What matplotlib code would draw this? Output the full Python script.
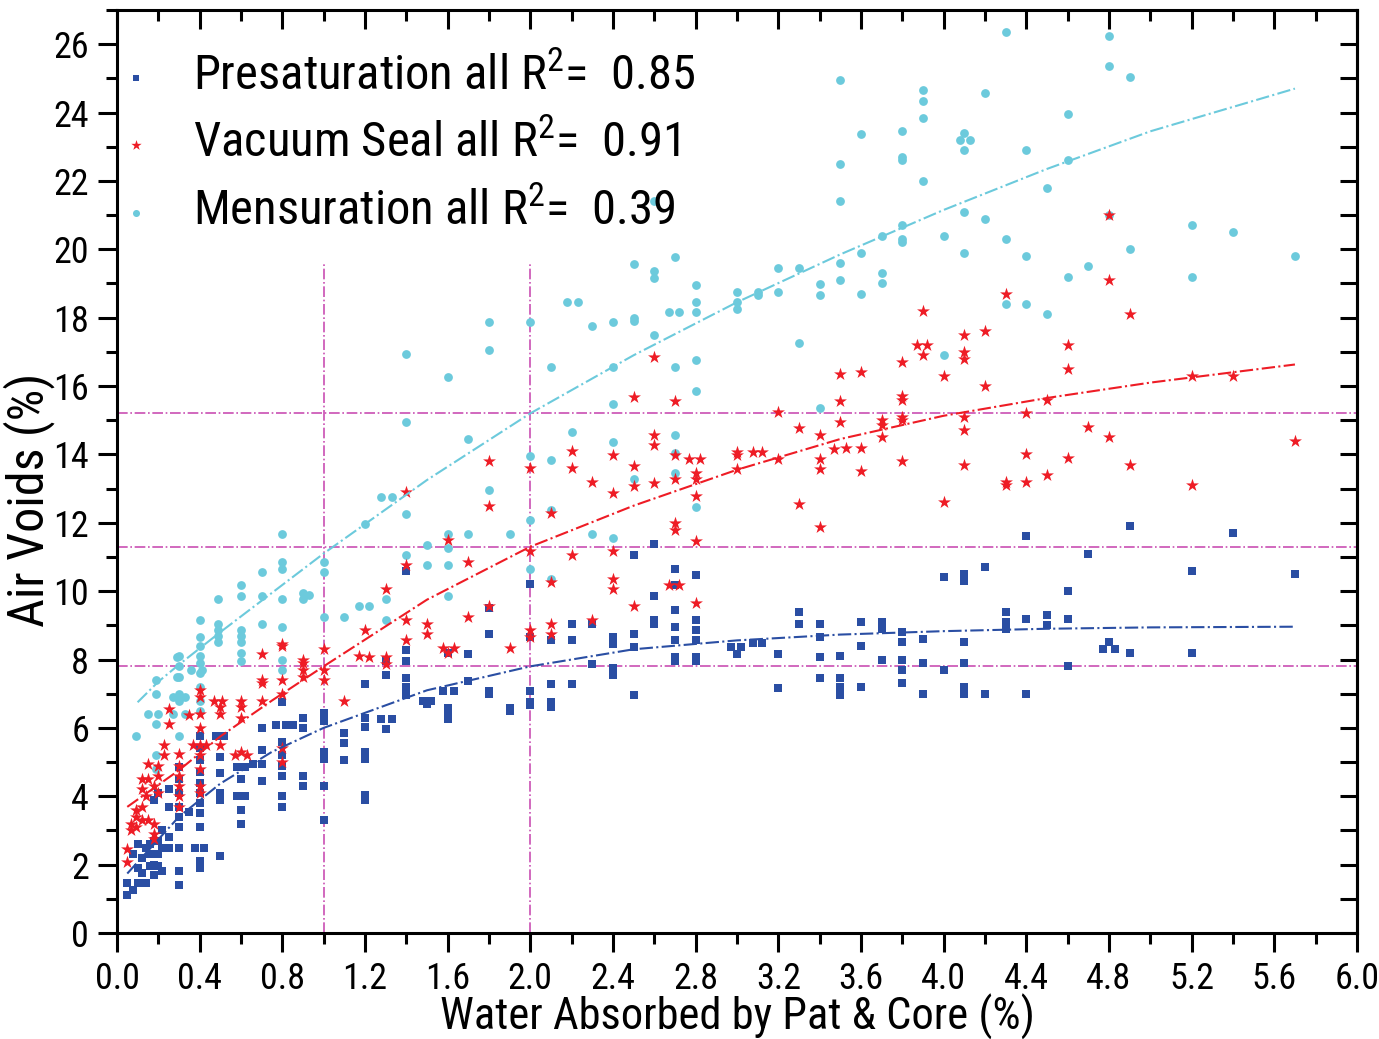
import matplotlib
matplotlib.use("Agg")
import matplotlib.pyplot as plt
from matplotlib.ticker import MultipleLocator
from matplotlib import font_manager as fm

# prefer an Arial-Narrow-like face, fall back to normal sans
wanted = ['Liberation Sans Narrow', 'Nimbus Sans Narrow', 'Arial Narrow',
          'Roboto Condensed', 'Archivo Narrow', 'PT Sans Narrow', 'Liberation Sans']
have = set(f.name for f in fm.fontManager.ttflist)
plt.rcParams['font.family'] = [n for n in wanted if n in have] + ['DejaVu Sans']

# --- Presaturation (blue squares) ---
pres_x = [0.05, 0.05, 0.08, 0.08, 0.1, 0.1, 0.1, 0.12, 0.12, 0.14, 0.14,
          0.16, 0.16, 0.16, 0.18, 0.18, 0.18, 0.18, 0.2, 0.2, 0.2, 0.2,
          0.22, 0.22, 0.22, 0.25, 0.25, 0.25, 0.25,
          0.3, 0.3, 0.3, 0.3, 0.3, 0.3, 0.3, 0.3, 0.3, 0.35,
          0.4, 0.4, 0.4, 0.4, 0.4, 0.4, 0.4, 0.4, 0.4, 0.38, 0.42, 0.4, 0.4,
          0.48, 0.52, 0.5, 0.5, 0.5, 0.5, 0.5,
          0.58, 0.62, 0.58, 0.62, 0.6, 0.6, 0.6,
          0.66, 0.7, 0.7, 0.7, 0.7,
          0.77, 0.82, 0.85, 0.8, 0.8, 0.8, 0.8, 0.8, 0.8, 0.8,
          0.9, 0.9, 0.9, 0.9,
          1.0, 1.0, 1.0, 1.0, 1.0, 1.0,
          1.1, 1.1, 1.1,
          1.2, 1.2, 1.2, 1.2, 1.2, 1.2, 1.2, 1.28, 1.33,
          1.3, 1.3, 1.3,
          1.4, 1.4, 1.4, 1.4, 1.4, 1.4,
          1.48, 1.52, 1.5, 1.58, 1.63,
          1.6, 1.6, 1.6, 1.6, 1.7, 1.7,
          1.8, 1.8, 1.8, 1.8, 1.9, 1.9,
          2.0, 2.0, 2.0, 2.0, 2.0,
          2.1, 2.1, 2.1, 2.1, 2.2, 2.2, 2.2, 2.3, 2.3,
          2.4, 2.4, 2.4, 2.4, 2.5, 2.5, 2.5, 2.5,
          2.6, 2.6, 2.6, 2.6,
          2.7, 2.7, 2.7, 2.7, 2.7, 2.7, 2.7,
          2.8, 2.8, 2.8, 2.8, 2.8, 2.8,
          2.97, 3.02, 3.0, 3.08, 3.12, 3.2, 3.2, 3.3, 3.3,
          3.4, 3.4, 3.4, 3.4, 3.5, 3.5, 3.5, 3.5,
          3.6, 3.6, 3.6, 3.7, 3.7, 3.7,
          3.8, 3.8, 3.8, 3.8, 3.8, 3.9, 3.9, 3.9,
          4.0, 4.0, 4.1, 4.1, 4.1, 4.1, 4.1, 4.1, 4.2, 4.2,
          4.3, 4.3, 4.3, 4.4, 4.4, 4.4, 4.5, 4.5,
          4.6, 4.6, 4.6, 4.7, 4.77, 4.83, 4.8, 4.9, 4.9,
          5.2, 5.2, 5.4, 5.7]
pres_y = [1.1, 1.45, 1.25, 2.3, 1.45, 1.9, 2.6, 1.75, 2.2, 1.45, 2.5,
          1.95, 2.3, 2.6, 1.7, 2.0, 2.7, 3.9, 1.95, 2.3, 2.7, 4.1,
          2.5, 3.0, 1.8, 2.8, 3.7, 4.2, 2.5,
          3.7, 3.4, 3.1, 1.8, 1.4, 2.5, 4.85, 4.5, 4.1, 3.55,
          5.75, 5.4, 5.05, 4.7, 4.4, 4.1, 3.8, 3.5, 3.1, 2.5, 2.5, 2.1, 1.9,
          5.75, 5.75, 5.15, 4.67, 4.1, 3.9, 2.25,
          4.85, 4.85, 4.0, 4.0, 3.6, 3.2, 4.5,
          4.95, 4.95, 6.0, 5.34, 4.46,
          6.08, 6.08, 6.08, 6.76, 5.6, 5.2, 4.9, 4.6, 4.0, 3.7,
          6.28, 6.0, 4.6, 4.3,
          6.45, 6.2, 5.3, 5.1, 4.3, 3.3,
          5.84, 5.55, 5.06,
          6.3, 6.04, 5.3, 5.1, 4.05, 3.9, 7.27, 6.26, 6.26,
          5.97, 7.56, 7.97,
          10.6, 8.27, 7.97, 7.46, 7.2, 6.97,
          6.8, 6.8, 6.7, 7.07, 7.07,
          8.2, 6.48, 6.26, 6.58, 8.17, 7.37,
          9.5, 8.76, 7.07, 7.0, 6.58, 6.48,
          10.2, 8.66, 7.07, 6.77, 6.67,
          8.56, 7.27, 6.77, 6.6, 9.05, 8.56, 7.27, 9.05, 7.87,
          8.66, 8.46, 7.75, 7.56, 11.07, 8.76, 8.37, 6.97,
          11.37, 9.87, 9.17, 9.05,
          10.66, 10.17, 9.46, 8.95, 8.56, 8.07, 7.97,
          10.47, 9.17, 8.86, 8.56, 8.07, 7.97,
          8.37, 8.37, 8.17, 8.47, 8.47, 8.17, 7.17, 9.4, 9.05,
          9.05, 8.66, 8.07, 7.46, 8.1, 7.46, 7.2, 6.97,
          9.1, 8.4, 7.2, 9.1, 8.9, 8.0,
          8.8, 8.5, 8.0, 7.7, 7.3, 8.6, 7.9, 7.0,
          10.4, 7.7, 10.5, 10.3, 8.5, 7.9, 7.2, 7.0, 10.7, 7.0,
          9.4, 9.1, 8.9, 11.6, 9.2, 7.0, 9.3, 9.0,
          10.0, 9.2, 7.8, 11.1, 8.3, 8.3, 8.5, 11.9, 8.2,
          10.6, 8.2, 11.7, 10.5]

# --- Vacuum Seal (red stars) ---
vac_x = [0.05, 0.05, 0.07, 0.07, 0.09, 0.09, 0.09,
         0.12, 0.12, 0.12, 0.12, 0.14, 0.15, 0.15, 0.15,
         0.18, 0.18, 0.18, 0.18, 0.2, 0.2, 0.2, 0.23, 0.23, 0.25, 0.25,
         0.3, 0.3, 0.3, 0.3, 0.3, 0.3, 0.35,
         0.4, 0.4, 0.4, 0.4, 0.4, 0.4, 0.4, 0.4, 0.4, 0.37, 0.43,
         0.47, 0.51, 0.5, 0.5, 0.5,
         0.57, 0.6, 0.63, 0.6, 0.6, 0.6,
         0.7, 0.7, 0.7, 0.7,
         0.8, 0.8, 0.8, 0.8, 0.8, 0.8,
         0.9, 0.9, 0.9, 0.9, 1.0, 1.0, 1.0,
         1.1, 1.17, 1.2, 1.22, 1.3, 1.3, 1.3,
         1.4, 1.4, 1.4, 1.4, 1.5, 1.5,
         1.6, 1.58, 1.6, 1.63, 1.7, 1.7,
         1.8, 1.8, 1.8, 1.9,
         2.0, 2.0, 2.0, 2.0, 2.1, 2.1, 2.1, 2.1,
         2.2, 2.2, 2.2, 2.3, 2.3,
         2.4, 2.4, 2.4, 2.4, 2.4, 2.5, 2.5, 2.5, 2.5,
         2.6, 2.6, 2.6, 2.6, 2.67, 2.72,
         2.7, 2.7, 2.7, 2.7, 2.7, 2.77, 2.82,
         2.8, 2.8, 2.8, 2.8, 2.8,
         3.0, 3.0, 3.0, 3.08, 3.12, 3.2, 3.2, 3.3, 3.3,
         3.4, 3.4, 3.4, 3.4, 3.47, 3.5, 3.5, 3.5, 3.53,
         3.6, 3.6, 3.6, 3.7, 3.7, 3.7,
         3.8, 3.8, 3.8, 3.8, 3.8, 3.8, 3.87, 3.92, 3.9, 3.9,
         4.0, 4.0, 4.1, 4.1, 4.1, 4.1, 4.1, 4.1, 4.2, 4.2,
         4.3, 4.3, 4.3, 4.4, 4.4, 4.4, 4.5, 4.5,
         4.6, 4.6, 4.6, 4.7, 4.8, 4.8, 4.8, 4.9, 4.9,
         5.2, 5.2, 5.4, 5.7]
vac_y = [2.47, 2.08, 3.2, 3.0, 3.6, 3.4, 3.1,
         4.5, 4.2, 3.7, 3.3, 4.0, 4.95, 4.5, 3.3,
         2.9, 2.75, 4.3, 3.2, 4.6, 4.1, 4.9, 5.5, 5.2, 6.55, 6.1,
         5.25, 4.9, 4.6, 4.3, 4.0, 3.7, 6.37,
         7.1, 6.9, 6.4, 6.0, 5.5, 5.2, 4.8, 4.3, 4.1, 5.5, 5.5,
         6.8, 6.8, 6.6, 6.4, 5.5,
         5.2, 5.3, 5.2, 6.8, 6.6, 6.3,
         8.17, 7.4, 7.3, 6.8,
         8.45, 8.4, 7.4, 7.0, 5.4, 5.0,
         8.0, 7.7, 7.9, 7.5, 8.3, 7.7, 7.4,
         6.8, 8.1, 8.86, 8.07, 10.06, 8.07, 7.87,
         12.9, 10.77, 9.17, 8.56, 9.05, 8.76,
         11.5, 8.35, 8.2, 8.35, 10.86, 9.25,
         13.8, 12.5, 9.56, 8.35,
         13.6, 11.17, 8.86, 8.66, 12.3, 10.27, 9.05, 8.76,
         14.1, 13.6, 11.07, 13.2, 9.17,
         13.97, 12.88, 11.17, 10.37, 10.06, 15.67, 13.67, 13.07, 9.56,
         16.86, 14.57, 14.27, 13.17, 10.17, 10.17,
         15.57, 13.97, 13.27, 12.0, 11.8, 13.86, 13.86,
         13.47, 13.27, 12.77, 11.47, 9.65,
         14.07, 13.97, 13.58, 14.07, 14.07, 15.25, 13.86, 14.76, 12.56,
         14.56, 13.86, 13.58, 11.87, 14.17, 16.36, 15.57, 14.95, 14.2,
         16.4, 14.2, 13.5, 15.0, 14.85, 14.5,
         16.7, 15.7, 15.6, 15.1, 15.0, 13.8, 17.2, 17.2, 18.2, 16.9,
         16.3, 12.6, 17.5, 17.0, 16.8, 15.1, 14.7, 13.7, 17.6, 16.0,
         18.7, 13.2, 13.1, 15.2, 14.0, 13.2, 15.6, 13.4,
         17.2, 16.5, 13.9, 14.8, 21.0, 19.1, 14.5, 18.1, 13.7,
         16.3, 13.1, 16.3, 14.4]

# --- Mensuration (cyan dots) ---
mens_x = [0.09, 0.15, 0.19, 0.19, 0.19, 0.19, 0.19, 0.2,
          0.29, 0.29, 0.3, 0.3, 0.3, 0.3, 0.3, 0.3, 0.27, 0.33, 0.27, 0.33,
          0.36, 0.41, 0.4, 0.4, 0.4, 0.4, 0.4, 0.4, 0.4, 0.4, 0.4,
          0.49, 0.49, 0.49, 0.49, 0.49,
          0.6, 0.6, 0.6, 0.6, 0.6, 0.6, 0.6,
          0.7, 0.7, 0.7,
          0.8, 0.8, 0.8, 0.8, 0.8, 0.8, 0.8,
          0.9, 0.9, 0.93, 1.0, 1.0, 1.0, 1.1,
          1.17, 1.22, 1.2, 1.28, 1.33, 1.3, 1.3,
          1.4, 1.4, 1.4, 1.4, 1.5, 1.5,
          1.6, 1.6, 1.6, 1.6, 1.6, 1.7, 1.7,
          1.8, 1.8, 1.8, 1.9,
          2.0, 2.0, 2.0, 2.0, 2.1, 2.1, 2.1, 2.1,
          2.18, 2.23, 2.2, 2.3, 2.3,
          2.4, 2.4, 2.4, 2.4, 2.4, 2.5, 2.5, 2.5, 2.5,
          2.6, 2.6, 2.6, 2.6, 2.67, 2.72,
          2.7, 2.7, 2.7, 2.7, 2.7,
          2.8, 2.8, 2.8, 2.8, 2.8, 2.8,
          3.0, 3.0, 3.0, 3.1, 3.1, 3.2, 3.2, 3.3, 3.3,
          3.4, 3.4, 3.4, 3.5, 3.5, 3.5, 3.5, 3.5,
          3.6, 3.6, 3.6, 3.7, 3.7, 3.7,
          3.8, 3.8, 3.8, 3.8, 3.8, 3.8, 3.9, 3.9, 3.9, 3.9,
          4.0, 4.0, 4.08, 4.13, 4.1, 4.1, 4.1, 4.1, 4.2, 4.2,
          4.3, 4.3, 4.3, 4.4, 4.4, 4.4, 4.5, 4.5,
          4.6, 4.6, 4.6, 4.7, 4.8, 4.8, 4.8, 4.9, 4.9,
          5.2, 5.2, 5.4, 5.7]
mens_y = [5.76, 6.4, 7.4, 7.0, 6.1, 5.2, 4.8, 6.4,
          8.07, 7.5, 8.1, 7.8, 7.5, 7.0, 6.8, 5.76, 6.9, 6.9, 6.4, 6.4,
          7.7, 7.7, 9.16, 8.66, 8.4, 8.1, 7.9, 7.6, 7.2, 6.8, 6.5,
          9.76, 9.05, 8.86, 8.5, 8.7,
          10.17, 9.85, 8.86, 8.5, 8.2, 7.97, 8.7,
          10.56, 9.85, 9.05,
          11.66, 10.85, 10.66, 9.76, 8.95, 8.0, 7.7,
          9.96, 9.76, 9.9, 10.85, 10.56, 9.25, 9.25,
          9.56, 9.56, 11.95, 12.75, 12.75, 9.76, 9.17,
          16.95, 14.95, 12.26, 11.07, 11.36, 10.77,
          16.25, 11.66, 11.26, 10.77, 9.86, 14.45, 11.66,
          17.86, 17.05, 12.95, 11.66,
          17.86, 13.95, 12.07, 10.66, 16.56, 13.85, 12.36, 10.37,
          18.45, 18.45, 14.65, 17.77, 11.66,
          17.86, 16.56, 15.46, 14.36, 11.55, 19.56, 18.0, 17.9, 13.27,
          21.4, 19.37, 19.16, 17.5, 18.16, 18.16,
          19.76, 16.56, 14.56, 14.05, 13.45,
          18.96, 18.45, 18.16, 16.75, 15.86, 12.46,
          18.76, 18.45, 18.26, 18.76, 18.65, 19.46, 18.76, 19.46, 17.27,
          18.97, 18.65, 15.36, 24.95, 22.5, 21.4, 19.6, 19.1,
          23.36, 19.9, 18.7, 20.4, 19.3, 19.0,
          23.45, 22.7, 22.6, 20.7, 20.3, 20.2, 24.65, 24.35, 23.84, 22.0,
          20.4, 16.9, 23.2, 23.2, 23.4, 22.9, 21.1, 19.9, 24.56, 20.9,
          26.35, 20.3, 18.4, 22.9, 19.8, 18.4, 21.8, 18.1,
          23.96, 22.6, 19.2, 19.5, 26.25, 25.35, 21.0, 25.05, 20.0,
          20.7, 19.2, 20.5, 19.8]

# fitted trend curves
fit_x = [0.05, 0.3, 0.5, 0.75, 1.0, 1.5, 2.0, 2.5, 3.0, 3.5, 4.0, 4.5, 5.0, 5.7]
pres_fit = [1.74, 3.4, 4.37, 5.3, 6.0, 7.1, 7.8, 8.3, 8.56, 8.73, 8.83, 8.9, 8.94, 8.96]
vac_fit = [3.69, 4.76, 5.75, 6.8, 7.8, 9.75, 11.3, 12.5, 13.55, 14.45, 15.13, 15.65, 16.1, 16.63]
mens_fit_x = [0.1, 0.2, 0.3, 0.5, 0.75, 1.0, 1.5, 2.0, 2.5, 3.0, 3.5, 4.0, 4.5, 5.0, 5.7]
mens_fit = [6.75, 7.35, 7.85, 8.8, 9.95, 11.1, 13.25, 15.2, 16.9, 18.45, 19.85, 21.15, 22.35, 23.45, 24.7]

# reference lines
ref_x = [1.0, 2.0]
ref_x_top = 19.6
ref_y = [7.8, 11.3, 15.2]

labels = ['Presaturation all R$^2$=  0.85',
          'Vacuum Seal all R$^2$=  0.91',
          'Mensuration all R$^2$=  0.39']

c_blue = '#2a4ea3'
c_red = '#ee1c25'
c_cyan = '#6ccadc'
c_ref = '#c94fb3'

plt.rcParams['mathtext.fontset'] = 'custom'
plt.rcParams['mathtext.rm'] = plt.rcParams['font.family'][0]

fig = plt.figure(figsize=(13.79, 10.39), dpi=100)
ax = fig.add_axes([0.0848, 0.102, 0.8992, 0.8884])

for xv in ref_x:
    ax.plot([xv, xv], [0, ref_x_top], color=c_ref, lw=1.2, ls='-.', zorder=1)
for yv in ref_y:
    ax.axhline(yv, color=c_ref, lw=1.2, ls='-.', zorder=1)

h1 = ax.scatter(pres_x, pres_y, marker='s', s=30, color=c_blue, lw=0, zorder=3)
h2 = ax.scatter(vac_x, vac_y, marker='*', s=95, color=c_red, lw=0, zorder=4)
h3 = ax.scatter(mens_x, mens_y, marker='o', s=40, color=c_cyan, lw=0, zorder=2)

ax.plot(fit_x, pres_fit, color=c_blue, lw=1.5, ls='-.', zorder=5)
ax.plot(fit_x, vac_fit, color=c_red, lw=1.5, ls='-.', zorder=5)
ax.plot(mens_fit_x, mens_fit, color=c_cyan, lw=1.5, ls='-.', zorder=5)

ax.set_xlim(0, 6.0)
ax.set_ylim(0, 27)
ax.xaxis.set_major_locator(MultipleLocator(0.4))
ax.xaxis.set_minor_locator(MultipleLocator(0.2))
ax.yaxis.set_major_locator(MultipleLocator(2))
ax.yaxis.set_minor_locator(MultipleLocator(1))
ax.xaxis.set_major_formatter(plt.FormatStrFormatter('%.1f'))

for sp in ax.spines.values():
    sp.set_linewidth(2.2)

ax.tick_params(which='major', direction='out', length=14, width=2.2,
               labelsize=26, pad=6)
ax.tick_params(which='minor', direction='out', length=8, width=2.2)
ax.tick_params(which='both', top=True, right=False)
# top ticks point inward
for t in ax.xaxis.get_major_ticks() + ax.xaxis.get_minor_ticks():
    t.tick2line.set_marker(3)

# right side: ticks every unit, pointing inward
ax2 = ax.twinx()
ax2.set_ylim(ax.get_ylim())
ax2.yaxis.set_major_locator(MultipleLocator(1))
ax2.tick_params(direction='in', length=12, width=2.2, labelright=False)
ax2.spines['right'].set_linewidth(2.2)

ax.set_xlabel('Water Absorbed by Pat & Core (%)', fontsize=32, labelpad=-2)
ax.set_ylabel('Air Voids (%)', fontsize=36)
ax.yaxis.set_label_coords(-0.05, 0.469)

leg = ax.legend([h1, h2, h3], labels, loc='upper left', fontsize=35,
                frameon=False, markerscale=0.8, handlelength=0.6,
                handletextpad=0.86, labelspacing=0.42, borderpad=0.1,
                bbox_to_anchor=(0.0, 0.958), borderaxespad=0.0)

fig.savefig('out.png', dpi=100)
